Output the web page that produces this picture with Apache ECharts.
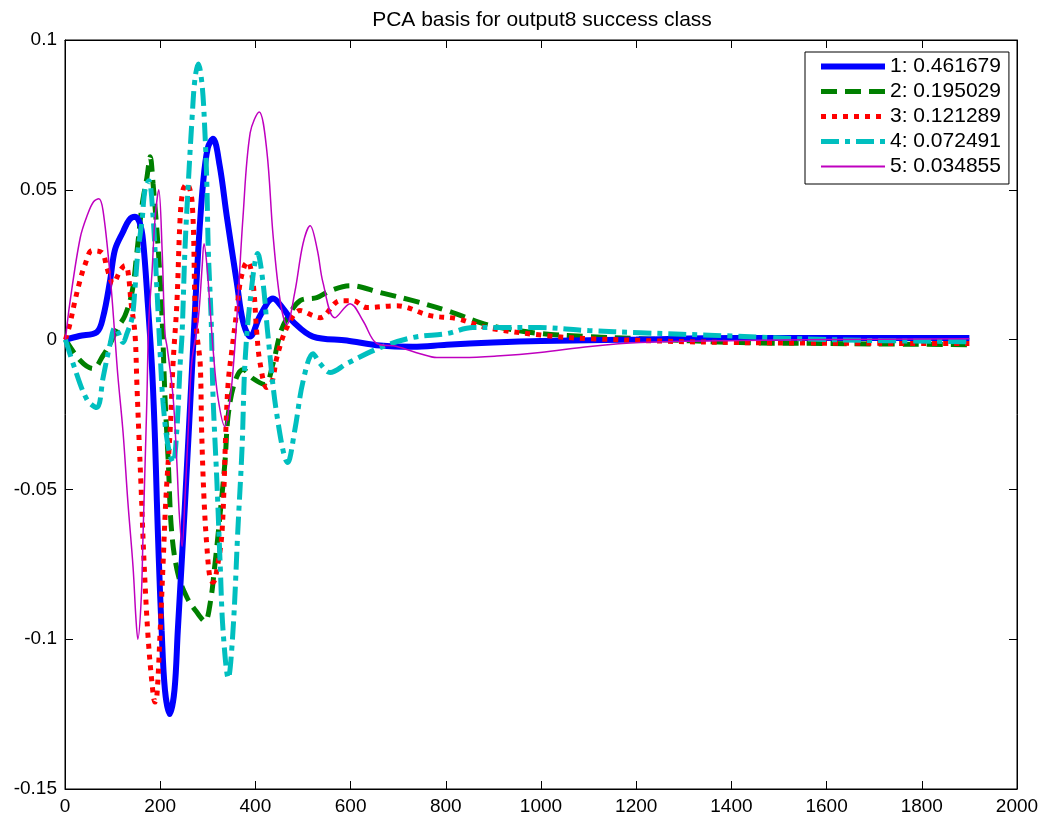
<!DOCTYPE html>
<html>
<head>
<meta charset="utf-8">
<script src="https://cdn.jsdelivr.net/npm/echarts@6/dist/echarts.min.js"></script>
<style>
html,body{margin:0;padding:0;background:#fff;}
#c{width:1047px;height:820px;}
</style>
</head>
<body>
<div id="c"></div>
<script>
var titleText = 'PCA basis for output8 success class';
var seriesNames = ['1: 0.461679', '2: 0.195029', '3: 0.121289', '4: 0.072491', '5: 0.034855'];
var xTicks = [0, 200, 400, 600, 800, 1000, 1200, 1400, 1600, 1800, 2000];
var yTicks = [-0.15, -0.1, -0.05, 0, 0.05, 0.1];

var s1x = [1, 30, 67, 80, 95, 105, 122, 135, 147, 157, 164, 174, 183, 189, 193, 197, 203, 210, 220, 230, 237, 252, 269, 280, 290, 300, 311, 325, 340, 361, 374, 389, 410, 437, 460, 479, 521, 592, 662, 731, 802, 899, 1000, 1200, 1400, 1900];
var s1y = [0, 0.0012, 0.0025, 0.0075, 0.020, 0.030, 0.036, 0.040, 0.041, 0.039, 0.033, 0.012, -0.010, -0.033, -0.054, -0.073, -0.097, -0.117, -0.125, -0.117, -0.097, -0.055, -0.003, 0.030, 0.052, 0.064, 0.067, 0.058, 0.041, 0.019, 0.006, 0.001, 0.008, 0.0137, 0.010, 0.006, 0.001, -0.0003, -0.002, -0.0024, -0.0017, -0.001, -0.0005, 0, 0.0005, 0.0005];

var s2x = [1, 32, 59, 80, 95, 111, 126, 141, 151, 162, 172, 179, 185, 196, 204, 210, 217, 224, 237, 256, 277, 294, 305, 315, 326, 336, 343, 357, 374, 395, 420, 437, 452, 466, 494, 529, 557, 599, 662, 731, 802, 872, 914, 1000, 1100, 1208, 1418, 1600, 1900];
var s2y = [0, -0.007, -0.0097, -0.0053, -0.0013, 0.004, 0.008, 0.016, 0.029, 0.045, 0.054, 0.061, 0.052, 0.030, 0.007, -0.019, -0.041, -0.064, -0.078, -0.086, -0.091, -0.094, -0.088, -0.075, -0.058, -0.041, -0.025, -0.014, -0.010, -0.013, -0.015, -0.008, 0.002, 0.007, 0.013, 0.014, 0.0163, 0.018, 0.0157, 0.013, 0.0097, 0.0057, 0.004, 0.002, 0.001, 0.0003, -0.001, -0.0013, -0.0017];

var s3x = [1, 10, 21, 32, 42, 57, 78, 88, 101, 116, 126, 132, 139, 147, 151, 155, 160, 166, 174, 183, 189, 193, 200, 206, 212, 221, 227, 235, 242, 248, 256, 267, 273, 277, 284, 287, 292, 298, 305, 311, 321, 330, 338, 343, 351, 361, 368, 378, 384, 395, 403, 410, 424, 435, 445, 466, 494, 521, 536, 578, 605, 634, 697, 767, 823, 887, 1000, 1103, 1418, 1900];
var s3y = [0, 0.005, 0.013, 0.020, 0.025, 0.0297, 0.029, 0.024, 0.0187, 0.023, 0.0247, 0.023, 0.012, 0.002, -0.0147, -0.031, -0.050, -0.074, -0.098, -0.115, -0.121, -0.119, -0.097, -0.075, -0.053, -0.030, -0.008, 0.012, 0.041, 0.050, 0.052, 0.046, 0.013, 0.002, -0.008, -0.030, -0.053, -0.069, -0.080, -0.081, -0.075, -0.064, -0.030, -0.014, -0.003, 0.0097, 0.019, 0.025, 0.026, 0.019, 0.002, -0.008, -0.016, -0.014, -0.006, 0.004, 0.0097, 0.008, 0.0073, 0.013, 0.013, 0.0107, 0.0113, 0.008, 0.007, 0.004, 0.0015, 0.0003, -0.001, -0.0013];

var s4x = [1, 17, 46, 67, 80, 95, 105, 113, 122, 130, 141, 147, 153, 162, 168, 176, 185, 193, 200, 206, 216, 227, 235, 242, 246, 252, 259, 267, 273, 280, 288, 294, 298, 301, 307, 311, 319, 326, 332, 343, 353, 363, 372, 378, 389, 405, 416, 426, 445, 468, 483, 500, 521, 536, 557, 592, 662, 731, 802, 857, 907, 998, 1100, 1208, 1383, 1600, 1900];
var s4y = [0, -0.008, -0.020, -0.0227, -0.0127, -0.0013, 0.004, 0.002, -0.001, 0.002, 0.0073, 0.017, 0.029, 0.040, 0.050, 0.053, 0.041, 0.017, -0.005, -0.021, -0.035, -0.041, -0.030, -0.008, 0.002, 0.030, 0.052, 0.074, 0.087, 0.092, 0.085, 0.069, 0.052, 0.030, 0.007, -0.019, -0.047, -0.075, -0.097, -0.113, -0.097, -0.064, -0.036, -0.008, 0.013, 0.0287, 0.019, 0.002, -0.025, -0.041, -0.030, -0.014, -0.0047, -0.008, -0.011, -0.008, -0.0027, 0.0007, 0.002, 0.004, 0.004, 0.004, 0.003, 0.0023, 0.0013, 0, -0.0007];

var s5x = [1, 10, 32, 48, 60, 71, 80, 95, 105, 111, 122, 132, 143, 149, 153, 160, 164, 168, 172, 176, 183, 189, 197, 204, 210, 215, 227, 235, 240, 246, 252, 259, 266, 280, 288, 292, 298, 305, 311, 321, 336, 345, 351, 361, 374, 389, 408, 424, 437, 452, 466, 483, 500, 515, 530, 542, 567, 599, 626, 655, 697, 746, 781, 837, 907, 998, 1103, 1208, 1418, 1600, 1900];
var s5y = [0, 0.012, 0.034, 0.042, 0.046, 0.047, 0.043, 0.021, 0.0007, -0.012, -0.031, -0.054, -0.076, -0.093, -0.100, -0.087, -0.065, -0.043, -0.020, 0.006, 0.023, 0.040, 0.050, 0.030, 0.002, -0.003, -0.019, -0.041, -0.058, -0.069, -0.053, -0.030, -0.008, 0.007, 0.024, 0.032, 0.025, 0.010, -0.003, -0.019, -0.029, -0.022, -0.014, 0.007, 0.041, 0.069, 0.076, 0.063, 0.035, 0.013, 0.005, 0.016, 0.032, 0.038, 0.030, 0.019, 0.0073, 0.012, 0.0063, -0.0013, -0.0023, -0.0047, -0.006, -0.006, -0.0055, -0.0043, -0.0023, -0.001, -0.0003, 0, 0.0003];

function zip(xs, ys) { return xs.map(function (x, i) { return [x, ys[i]]; }); }

var FONT = 'Liberation Sans, Arial, Helvetica, sans-serif';
var chart = echarts.init(document.getElementById('c'), null, {renderer: 'canvas'});

function fmtY(v) { var r = Math.round(v * 1000) / 1000; return r === 0 ? '0' : String(r); }
function fmtX(v) { return String(Math.round(v)); }

var axisCommon = {
  axisLine: {show: true, onZero: false, lineStyle: {color: '#000', width: 1}},
  axisTick: {show: true, inside: true, length: 8, lineStyle: {color: '#000', width: 1}},
  splitLine: {show: false}
};

var colors = ['#0000ff', '#008000', '#ff0000', '#00bfbf', '#bf00bf'];
var widths = [6, 5, 5, 5, 1.5];
var dashes = ['solid', [16, 8], [5, 6], [18, 6, 5, 6], 'solid'];
var allX = [s1x, s2x, s3x, s4x, s5x];
var allY = [s1y, s2y, s3y, s4y, s5y];
var zs = [5, 4, 6, 7, 8];

var series = seriesNames.map(function (name, i) {
  return {
    name: name, type: 'line', data: zip(allX[i], allY[i]), smooth: 0.35,
    showSymbol: false, symbol: 'none', z: zs[i],
    lineStyle: {color: colors[i], width: widths[i], type: dashes[i]},
    itemStyle: {color: colors[i]}
  };
});

var option = {
  animation: false,
  backgroundColor: '#fff',
  title: {
    text: titleText, left: 537, top: 5, textAlign: 'center',
    textStyle: {fontFamily: FONT, fontSize: 21, fontWeight: 'normal', color: '#000'}
  },
  grid: {left: 65, right: 30, top: 40, bottom: 31, show: true, borderColor: '#000', borderWidth: 1},
  legend: {
    data: seriesNames.map(function (n, i) {
      return {name: n, lineStyle: {width: widths[i] === 1.5 ? 2 : widths[i], type: dashes[i], color: colors[i]}};
    }),
    orient: 'vertical', left: 805, top: 52,
    padding: [4, 8, 7, 13],
    itemWidth: 64, itemHeight: 14, itemGap: 4,
    borderColor: '#000', borderWidth: 1, backgroundColor: '#fff',
    itemStyle: {opacity: 0},
    lineStyle: {width: 'inherit'},
    textStyle: {fontFamily: FONT, fontSize: 21, lineHeight: 21, color: '#000'}
  },
  xAxis: [
    Object.assign({type: 'value', min: 0, max: 2000, interval: 200, position: 'bottom',
      axisLabel: {color: '#000', fontFamily: FONT, fontSize: 19, margin: 8, formatter: fmtX}}, axisCommon),
    Object.assign({type: 'value', min: 0, max: 2000, interval: 200, position: 'top',
      axisLabel: {show: false}}, axisCommon)
  ],
  yAxis: [
    Object.assign({type: 'value', min: -0.15, max: 0.1, interval: 0.05, position: 'left',
      axisLabel: {color: '#000', fontFamily: FONT, fontSize: 19, margin: 8, formatter: fmtY}}, axisCommon),
    Object.assign({type: 'value', min: -0.15, max: 0.1, interval: 0.05, position: 'right',
      axisLabel: {show: false}}, axisCommon)
  ],
  series: series
};
chart.setOption(option);
</script>
</body>
</html>
